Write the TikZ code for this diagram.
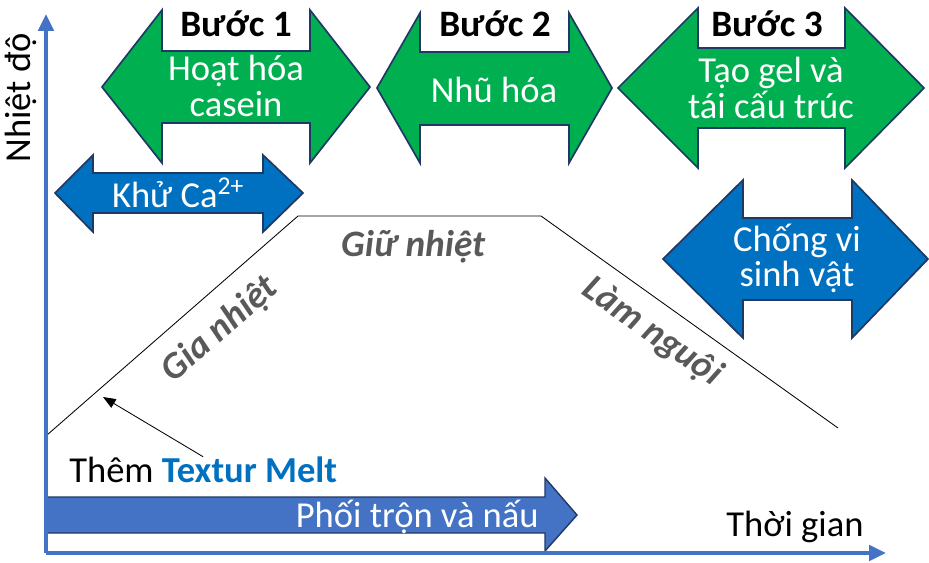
\documentclass[tikz,border=0pt]{standalone}
\usepackage{fontspec}
\setmainfont{Carlito}
\usetikzlibrary{arrows.meta,positioning}
\definecolor{stepgreen}{HTML}{00B050}
\definecolor{stepblue}{HTML}{0070C0}
\definecolor{axisblue}{HTML}{4472C4}
\definecolor{edgenavy}{HTML}{203864}
\definecolor{phasegray}{HTML}{595959}
\tikzset{
  greenarr/.style={fill=stepgreen, draw=edgenavy, line width=1.2pt},
  bluearr/.style={fill=stepblue, draw=edgenavy, line width=1.2pt},
  inlabel/.style={text=white, inner sep=0pt, align=center, font=\fontsize{26}{25}\selectfont},
  steptitle/.style={inner sep=0pt, font=\fontsize{26.5}{26}\selectfont\bfseries},
  phase/.style={text=phasegray, inner sep=0pt, font=\fontsize{26.5}{26}\selectfont\bfseries\itshape},
  axislabel/.style={inner sep=0pt, font=\fontsize{26}{26}\selectfont},
}
\begin{document}
\begin{tikzpicture}[x=0.025cm, y=-0.025cm]
\useasboundingbox (0,0) rectangle (929,562);

% buoc 1, 2, 3
\draw[greenarr] (102,87) -- (162,10) -- (162,51) -- (310,51) -- (310,10) -- (370,87)
  -- (310,163) -- (310,123) -- (162,123) -- (162,163) -- cycle;
\draw[greenarr] (377,88) -- (420,13) -- (420,52) -- (569,52) -- (569,13) -- (612,88)
  -- (569,163) -- (569,125) -- (420,125) -- (420,163) -- cycle;
\draw[greenarr] (618,88) -- (698,8) -- (698,48) -- (845,48) -- (845,8) -- (924,88)
  -- (845,168) -- (845,128) -- (698,128) -- (698,168) -- cycle;
\node[steptitle] (b1) at (236,24) {Bước 1};
\node[steptitle] (b2) at (495,24) {Bước 2};
\node[steptitle] (b3) at (767,24) {Bước 3};
\node[inlabel] (casein) at (236,86) {Hoạt hóa\\casein};
\node[inlabel] (emul) at (494,90) {Nhũ hóa};
\node[inlabel] (gel) at (771,88) {Tạo gel và\\tái cấu trúc};

% blue
\draw[bluearr] (55,193) -- (93,155) -- (93,173) -- (263,173) -- (263,155) -- (303,193)
  -- (263,232) -- (263,213) -- (93,213) -- (93,232) -- cycle;
\draw[bluearr] (663,259) -- (743,180) -- (743,218) -- (852,218) -- (852,180) -- (928,259)
  -- (852,338) -- (852,300) -- (743,300) -- (743,338) -- cycle;
\node[inlabel] (ca) at (178,193) {Khử Ca\textsuperscript{2+}};
\node[inlabel] (antimicro) at (797,258) {Chống vi\\sinh vật};

% nhiet do
\coordinate (start) at (47,435);
\coordinate (hold1) at (298,216);
\coordinate (hold2) at (541,216);
\coordinate (cool) at (838,428);
\draw[line width=0.6pt] (start) -- (hold1) -- (hold2) -- (cool);
\node[phase] (giu) at (413,247) {Giữ nhiệt};
\node[phase, rotate=41] (gia) at (220,330) {Gia nhiệt};
\node[phase, rotate=-35] (lam) at (652,332) {Làm nguội};

% phoi tron
\draw[fill=axisblue, draw=edgenavy, line width=1pt] (47,497) -- (545,497) -- (545,478)
  -- (577,515) -- (545,551) -- (545,533) -- (47,533) -- cycle;
\node[inlabel, anchor=east] (mix) at (539,517) {Phối trộn và nấu};

% truc
\coordinate (o) at (46,553);
\coordinate (ytop) at (46,14);
\coordinate (xend) at (886,553);
\draw[axisblue, line width=2.6pt, -{Triangle[length=12pt,width=11pt]}] (o) -- (ytop);
\draw[axisblue, line width=2.6pt, -{Triangle[length=12pt,width=11pt]}] (o) -- (xend);
\node[axislabel, rotate=90] (temp) at (21,98) {Nhiệt độ};
\node[axislabel] (time) at (795,527) {Thời gian};

% them
\coordinate (add) at (103,397);
\node[axislabel, anchor=west] (them) at (69,470) {Thêm \textcolor{stepblue}{\bfseries Textur Melt}};
\draw[line width=0.6pt, -{Triangle[length=9pt,width=7pt]}] (them.north) -- (add);
\end{tikzpicture}
\end{document}
